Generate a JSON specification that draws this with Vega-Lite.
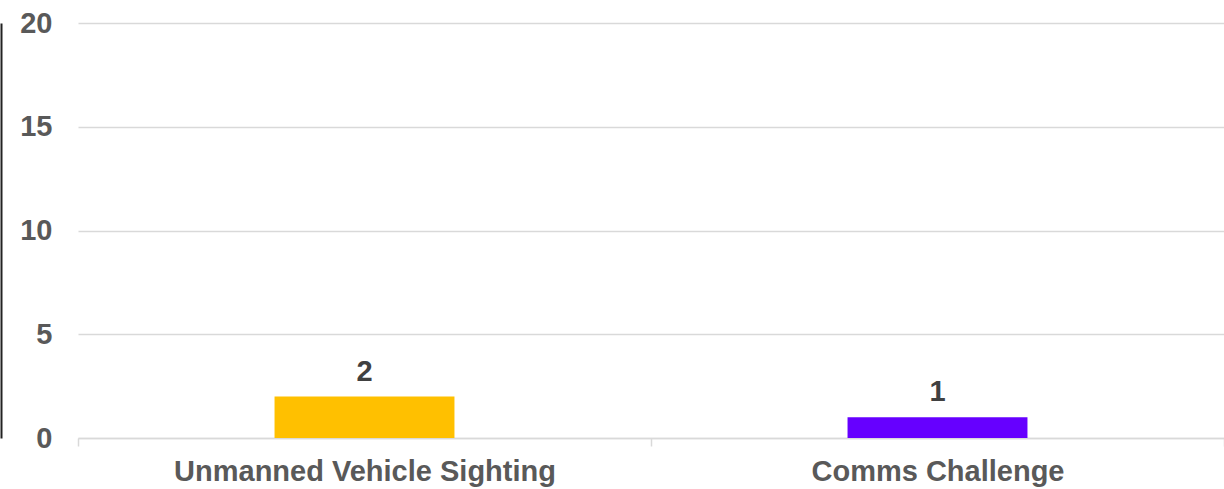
{
  "$schema": "https://vega.github.io/schema/vega-lite/v6.json",
  "width": 1146,
  "height": 415,
  "autosize": {"type": "none"},
  "padding": {"left": 78, "top": 23, "right": 0, "bottom": 51},
  "background": "white",
  "config": {
    "view": {"stroke": null},
    "font": "Liberation Sans"
  },
  "data": {
    "values": [
      {"category": "Unmanned Vehicle Sighting", "count": 2, "color": "#FFC000"},
      {"category": "Comms Challenge", "count": 1, "color": "#6600FF"}
    ]
  },
  "encoding": {
    "x": {
      "field": "category",
      "type": "nominal",
      "sort": null,
      "scale": {"paddingInner": 0, "paddingOuter": 0},
      "axis": {
        "title": null,
        "labelAngle": 0,
        "labelLimit": 0,
        "labelFont": "Liberation Sans",
        "labelFontSize": 29,
        "labelFontWeight": "bold",
        "labelColor": "#595959",
        "labelPadding": 11,
        "tickBand": "extent",
        "ticks": true,
        "tickColor": "#d9d9d9",
        "tickSize": 8,
        "tickWidth": 1.5,
        "domainColor": "#d9d9d9",
        "domainWidth": 1.5,
        "grid": false
      }
    },
    "y": {
      "field": "count",
      "type": "quantitative",
      "scale": {"domain": [0, 20], "nice": false}
    }
  },
  "layer": [
    {
      "mark": {"type": "bar", "width": {"band": 0.314}},
      "encoding": {
        "color": {"field": "color", "type": "nominal", "scale": null, "legend": null},
        "y": {
          "field": "count",
          "type": "quantitative",
          "scale": {"domain": [0, 20], "nice": false},
          "axis": {
            "title": null,
            "values": [0, 5, 10, 15, 20],
            "labelFont": "Liberation Sans",
            "labelFontSize": 29,
            "labelFontWeight": "bold",
            "labelColor": "#595959",
            "labelPadding": 26,
            "ticks": false,
            "domain": false,
            "grid": true,
            "gridColor": "#d9d9d9",
            "gridWidth": 1.5
          }
        }
      }
    },
    {
      "mark": {
        "type": "text",
        "dy": -16,
        "baseline": "alphabetic",
        "font": "Liberation Sans",
        "fontSize": 29,
        "fontWeight": "bold",
        "color": "#404040"
      },
      "encoding": {
        "text": {"field": "count", "type": "quantitative"},
        "y": {
          "field": "count",
          "type": "quantitative",
          "scale": {"domain": [0, 20], "nice": false},
          "axis": {
            "orient": "left",
            "offset": 77,
            "title": null,
            "labels": false,
            "ticks": false,
            "grid": false,
            "domain": true,
            "domainColor": "#222222",
            "domainWidth": 2
          }
        }
      }
    }
  ],
  "resolve": {"axis": {"y": "independent"}}
}
